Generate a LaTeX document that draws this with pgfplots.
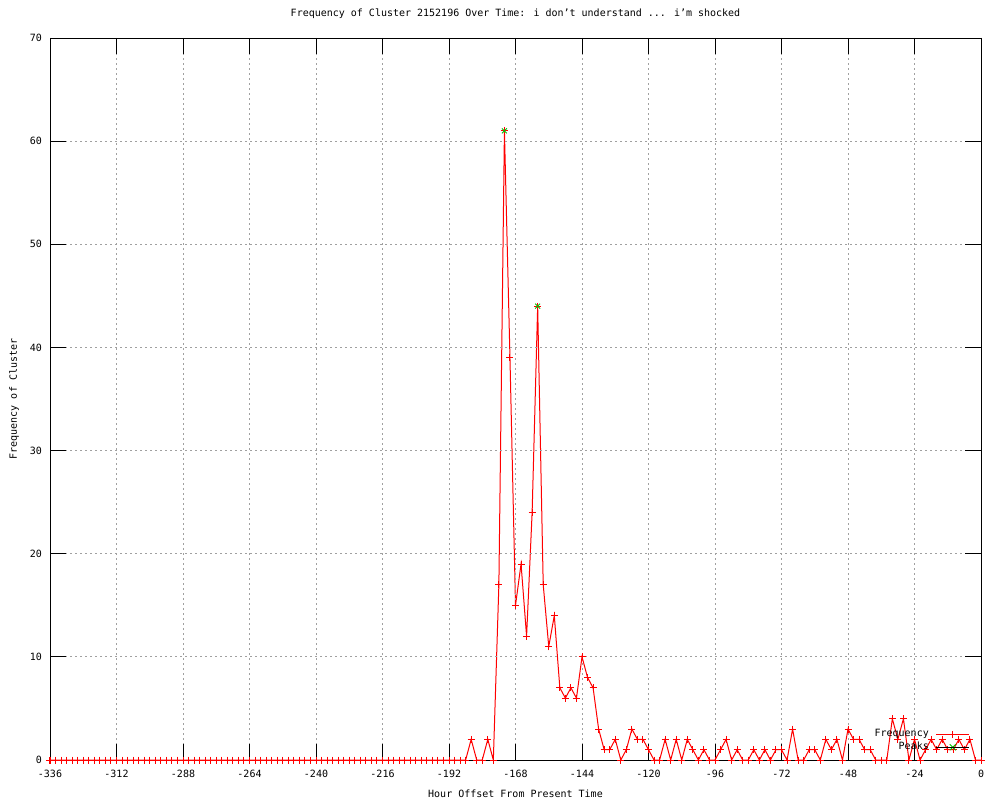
\documentclass[border=0pt]{standalone}
\usepackage{pgfplots}
\pgfplotsset{compat=1.18}
\usepackage{pgfplotstable}
\usepackage{fontspec}
\setmainfont{DejaVu Sans Mono}
\definecolor{gpred}{RGB}{255,0,0}
\definecolor{gpgreen}{RGB}{0,192,0}
\definecolor{gpgrid}{RGB}{160,160,160}
\pgfplotstableread{
x y
-336 0
-334 0
-332 0
-330 0
-328 0
-326 0
-324 0
-322 0
-320 0
-318 0
-316 0
-314 0
-312 0
-310 0
-308 0
-306 0
-304 0
-302 0
-300 0
-298 0
-296 0
-294 0
-292 0
-290 0
-288 0
-286 0
-284 0
-282 0
-280 0
-278 0
-276 0
-274 0
-272 0
-270 0
-268 0
-266 0
-264 0
-262 0
-260 0
-258 0
-256 0
-254 0
-252 0
-250 0
-248 0
-246 0
-244 0
-242 0
-240 0
-238 0
-236 0
-234 0
-232 0
-230 0
-228 0
-226 0
-224 0
-222 0
-220 0
-218 0
-216 0
-214 0
-212 0
-210 0
-208 0
-206 0
-204 0
-202 0
-200 0
-198 0
-196 0
-194 0
-192 0
-190 0
-188 0
-186 0
-184 2
-182 0
-180 0
-178 2
-176 0
-174 17
-172 61
-170 39
-168 15
-166 19
-164 12
-162 24
-160 44
-158 17
-156 11
-154 14
-152 7
-150 6
-148 7
-146 6
-144 10
-142 8
-140 7
-138 3
-136 1
-134 1
-132 2
-130 0
-128 1
-126 3
-124 2
-122 2
-120 1
-118 0
-116 0
-114 2
-112 0
-110 2
-108 0
-106 2
-104 1
-102 0
-100 1
-98 0
-96 0
-94 1
-92 2
-90 0
-88 1
-86 0
-84 0
-82 1
-80 0
-78 1
-76 0
-74 1
-72 1
-70 0
-68 3
-66 0
-64 0
-62 1
-60 1
-58 0
-56 2
-54 1
-52 2
-50 0
-48 3
-46 2
-44 2
-42 1
-40 1
-38 0
-36 0
-34 0
-32 4
-30 2
-28 4
-26 0
-24 2
-22 0
-20 1
-18 2
-16 1
-14 2
-12 1
-10 1
-8 2
-6 1
-4 2
-2 0
0 0
}\freq
\pgfplotstableread{
x y
-172 61
-160 44
}\peaks
\begin{document}
\begin{tikzpicture}
\begin{axis}[
  axis on top,
  scale only axis, width=931pt, height=722pt,
  xmin=-336, xmax=0, ymin=0, ymax=70,
  xtick={-336,-312,...,0}, ytick={0,10,...,70},
  tick align=inside, major tick length=16pt,
  tick style={black, line width=0.8pt},
  grid=major, grid style={gpgrid, line width=0.8pt, dash pattern=on 2pt off 3pt},
  axis line style={black, line width=0.8pt},
  font=\fontsize{10}{12}\selectfont,
  /pgf/number format/assume math mode=true,
  xticklabel style={anchor=base, yshift=-17pt, inner sep=0pt},
  yticklabel style={anchor=east, xshift=-8pt, inner sep=0pt},
  title={Frequency of Cluster 2152196 Over Time: i don’t understand ... i’m shocked},
  title style={at={(axis description cs:0.5,1.02216)}, anchor=base, inner sep=0pt},
  xlabel={Hour Offset From Present Time},
  xlabel style={at={(axis description cs:0.5,-0.05125)}, anchor=base, inner sep=0pt},
  ylabel={Frequency of Cluster},
  ylabel style={at={(axis description cs:-0.03545,0.5)}, anchor=base, inner sep=0pt},
  legend plot pos=right,
  legend cell align=right,
  legend style={at={(axis description cs:0.98818,0.0104)}, anchor=south east, draw=none, fill=none,
    inner sep=0pt, row sep=3pt, column sep=7pt,
    nodes={inner sep=0pt, text height=7.5pt, text depth=2.5pt},
    font=\fontsize{10}{12}\selectfont},
]
\addplot[gpred, line width=1pt, forget plot] table[x=x,y=y] {\freq};
\addplot[only marks, mark=+, mark size=3.5pt, scatter, point meta=y,
  scatter/use mapped color={draw=gpred, fill=gpred, line width=1pt}, forget plot] table[x=x,y=y] {\freq};
\addplot[only marks, mark=x, mark size=3.5pt, scatter, point meta=y,
  scatter/use mapped color={draw=gpgreen, fill=gpgreen, line width=0.9pt}, forget plot] table[x=x,y=y] {\peaks};
\addlegendimage{legend image code/.code={\draw[gpred, line width=1pt] (0pt,0pt) -- (33pt,0pt) (16.5pt,-3.5pt) -- (16.5pt,3.5pt);}}
\addlegendentry{Frequency}
\addlegendimage{legend image code/.code={\draw[gpgreen, line width=0.9pt] (13.5pt,-3pt) -- (19.5pt,3pt) (13.5pt,3pt) -- (19.5pt,-3pt); \path (0pt,0pt) -- (33pt,0pt);}}
\addlegendentry{Peaks}
\end{axis}
\pgfresetboundingbox
\useasboundingbox (-50pt,-40pt) rectangle (950pt,760pt);
\end{tikzpicture}
\end{document}
